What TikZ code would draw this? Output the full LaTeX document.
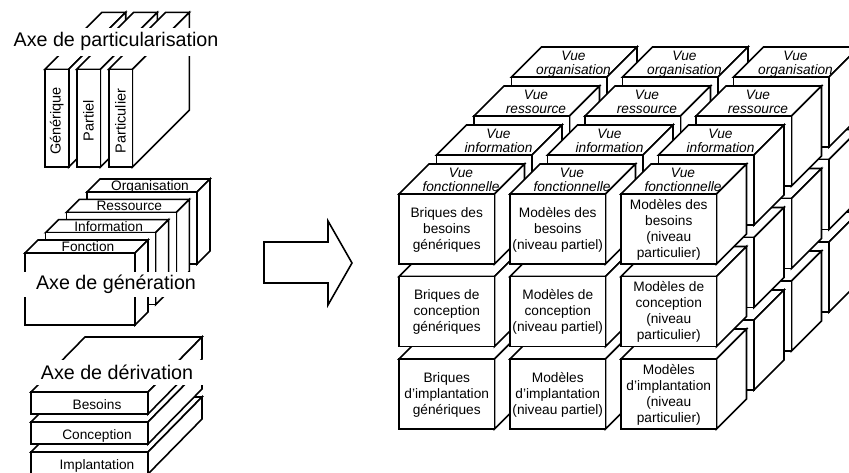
\documentclass[tikz,border=0pt]{standalone}
\usepackage{fontspec}
\setmainfont{Liberation Sans}
% box seen from the front: front-left x, front-top y, width, height, depth dx, depth dy
\newcommand{\slabbox}[6]{%
  \filldraw[fill=white] (#1,#2) -- ++(#5,-#6) -- ++(#3,0) -- ++(-#5,#6) -- cycle;
  \filldraw[fill=white] (#1+#3,#2) -- ++(#5,-#6) -- ++(0,#4) -- ++(-#5,#6) -- cycle;
  \filldraw[fill=white] (#1,#2) rectangle ++(#3,#4);
}
\begin{document}
\begin{tikzpicture}[x=1pt,y=-1pt,line width=1.6pt,line join=miter,
  txt/.style={inner sep=0pt,align=center,font=\fontsize{13.7}{16}\selectfont},
  sidetxt/.style={inner sep=0pt,rotate=90,font=\fontsize{14.5}{16}\selectfont},
  vue/.style={inner sep=0pt,anchor=base,font=\fontsize{13.7}{14}\selectfont\itshape},
  axislabel/.style={fill=white,inner sep=0pt,font=\fontsize{19.7}{22}\selectfont}]
\clip (0,0) rectangle (849,472);
\fill[white] (0,0) rectangle (849,472);

% --- particularisation axis: three upright slabs ---
\foreach \x/\t/\n in {45/Générique/pa,76.7/Partiel/pb,108.7/Particulier/pc}{
  \slabbox{\x}{69.3}{23.7}{97.7}{57}{57}
  \node[sidetxt] (\n) at (\x+11.85,121) {\t};
}
\node[axislabel,minimum width=210,minimum height=28] (axepart) at (116,41.5) {Axe de particularisation};

% --- generation axis: four slabs one behind the other ---
\foreach \i/\t in {3/Organisation,2/Ressource,1/Information,0/Fonction}{
  \pgfmathsetmacro\X{25+20.67*\i}
  \pgfmathsetmacro\Y{253-20.33*\i}
  \filldraw[fill=white] (\X,\Y) -- ++(13,-13) -- ++(110,0) -- ++(-13,13) -- cycle;
  \node[txt,anchor=base] (g\i) at (\X+63,\Y-1.5) {\t};
  \filldraw[fill=white] (\X+110,\Y) -- ++(13,-13) -- ++(0,72) -- ++(-13,13) -- cycle;
  \filldraw[fill=white] (\X,\Y) rectangle ++(110,72);
}
\node[axislabel,minimum width=192,minimum height=25] (axegen) at (116,284.5) {Axe de génération};

% --- derivation axis: three stacked flat slabs ---
\foreach \i/\t in {2/Implantation,1/Conception,0/Besoins}{
  \pgfmathsetmacro\Y{392+30*\i}
  \slabbox{31}{\Y}{117}{22}{54}{55}
  \node[txt,anchor=base] (d\i) at (97,\Y+17) {\t};
}
\node[axislabel,minimum width=178,minimum height=25] (axeder) at (117,372.5) {Axe de dérivation};

% --- block arrow ---
\filldraw[fill=white] (264,242) -- (328,242) -- (328,221) -- (352,263)
  -- (328,305) -- (328,283) -- (264,283) -- cycle;

% --- cube of models: four view layers, back to front ---
\foreach \L/\v in {3/organisation,2/ressource,1/information,0/fonctionnelle}{
  \foreach \c in {0,1,2}{
    \foreach \r in {2,1,0}{
      \pgfmathsetmacro\X{399+111*\c+37.5*\L}
      \pgfmathsetmacro\Y{194+82.5*\r-39*\L}
      \slabbox{\X}{\Y}{95.5}{70}{30}{30}
    }
    \pgfmathsetmacro\X{399+111*\c+37.5*\L}
    \pgfmathsetmacro\Y{194-39*\L}
    \node[vue] (vue\L\c) at (\X+62,\Y-17) {Vue};
    \node[vue] (vw\L\c) at (\X+62,\Y-3) {\v};
  }
}

% front faces of the first layer
\foreach \c/\r/\t in {
  0/0/{Briques des\\besoins\\génériques},
  0/1/{Briques de\\conception\\génériques},
  0/2/{Briques\\d’implantation\\génériques},
  1/0/{Modèles des\\besoins\\(niveau partiel)},
  1/1/{Modèles de\\conception\\(niveau partiel)},
  1/2/{Modèles\\d’implantation\\(niveau partiel)},
  2/0/{Modèles des\\besoins\\(niveau\\particulier)},
  2/1/{Modèles de\\conception\\(niveau\\particulier)},
  2/2/{Modèles\\d’implantation\\(niveau\\particulier)}}{
  \node[txt] (m\c\r) at (399+111*\c+47.75,194+82.5*\r+35.5) {\t};
}
\end{tikzpicture}
\end{document}
